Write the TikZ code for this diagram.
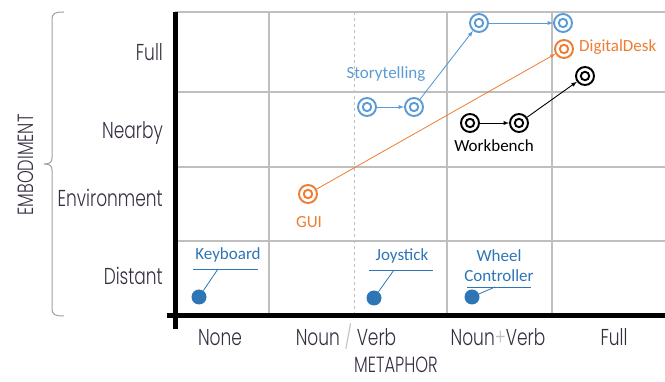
\documentclass[tikz,border=0pt]{standalone}
\usepackage{fontspec}
\newfontfamily\axisfont[FakeStretch=0.74]{Poppins Light}
\newfontfamily\markfont{Carlito}
\definecolor{skyblue}{RGB}{91,155,213}
\definecolor{deepblue}{RGB}{46,117,182}
\definecolor{tangerine}{RGB}{237,125,49}
\definecolor{gridgray}{RGB}{191,191,191}
\definecolor{inkgray}{RGB}{55,45,65}
\begin{document}
\begin{tikzpicture}[x=1pt, y=-1pt,
    ring/.style={circle, draw=#1, line width=1.9pt, minimum size=18pt, inner sep=0pt,
      path picture={\draw[#1, line width=1.9pt] (path picture bounding box.center) circle (4.2pt);}},
    pin/.style={circle, fill=deepblue, minimum size=15pt, inner sep=0pt},
    gridline/.style={gridgray, line width=1.2pt},
    ticklabel/.style={inkgray, font=\axisfont\fontsize{23}{26}\selectfont, inner sep=0pt},
    axistitle/.style={inkgray, font=\axisfont\fontsize{22}{26}\selectfont, inner sep=0pt},
    tag/.style={font=\markfont\fontsize{17}{20}\selectfont, inner sep=0pt, align=center},
    leader/.style={deepblue, line width=0.8pt}]
    \tikzset{>=latex}
    \useasboundingbox (0,0) rectangle (665,382);

    % grid
    \foreach \gy in {12,92,167,241} \draw[gridline] (175,\gy) -- (665,\gy);
    \foreach \gx in {269,447,552} \draw[gridline] (\gx,12) -- (\gx,316);
    \draw[gridline, dashed, line width=1pt] (354,12) -- (354,316);

    % axes
    \draw[line width=5pt] (175,12) -- (175,329);
    \draw[line width=5pt] (167,316) -- (665,316);

    % brace
    \draw[gray!75, line width=1pt] (64,12) .. controls (55,12) and (52,13) .. (52,20)
      -- (52,158) .. controls (52,162) and (50,164) .. (44,164)
      .. controls (50,164) and (52,166) .. (52,170)
      -- (52,308) .. controls (52,315) and (55,316) .. (64,316);

    % axis labels
    \node[ticklabel, anchor=base east] (yfull) at (163,61) {Full};
    \node[ticklabel, anchor=base east] (ynear) at (163,139) {Nearby};
    \node[ticklabel, anchor=base east] (yenv) at (163,207) {Environment};
    \node[ticklabel, anchor=base east] (ydist) at (163,285) {Distant};
    \node[ticklabel, anchor=base] (xnone) at (220,346) {None};
    \node[ticklabel, anchor=base] (xnv) at (346,346) {Noun {\color{gridgray}/} Verb};
    \node[ticklabel, anchor=base] (xnpv) at (498,346) {Noun{\color{gridgray}+}Verb};
    \node[ticklabel, anchor=base] (xfull) at (614,346) {Full};
    \node[axistitle, anchor=base] (xtitle) at (396,373) {METAPHOR};
    \node[axistitle, anchor=base, rotate=90] (ytitle) at (33,165) {EMBODIMENT};

    % storytelling
    \node[ring=skyblue] (s1) at (367,107) {};
    \node[ring=skyblue] (s2) at (414,107) {};
    \node[ring=skyblue] (s3) at (479,23) {};
    \node[ring=skyblue] (s4) at (563,23) {};
    \node[tag, text=skyblue] (slab) at (386,74) {Storytelling};
    \draw[->, skyblue, line width=0.9pt] (s1) -- (s2);
    \draw[->, skyblue, line width=0.9pt] (s2) -- (s3);
    \draw[->, skyblue, line width=0.9pt] (s3) -- (s4);

    % gui and digitaldesk
    \node[ring=tangerine] (gui) at (308,194) {};
    \node[ring=tangerine] (dd) at (564,49) {};
    \node[tag, text=tangerine] (guilab) at (309,222) {GUI};
    \node[tag, text=tangerine, anchor=west] (ddlab) at (579,47) {DigitalDesk};
    \draw[->, tangerine, line width=0.8pt] (gui) -- (dd);

    % workbench
    \node[ring=black] (w1) at (470,123) {};
    \node[ring=black] (w2) at (519,123) {};
    \node[ring=black] (w3) at (585,76) {};
    \node[tag] (wlab) at (494,146) {Workbench};
    \draw[->, line width=0.9pt] (w1) -- (w2);
    \draw[->, line width=0.9pt] (w2) -- (w3);

    % devices
    \node[pin] (kb) at (199,297) {};
    \node[tag, text=deepblue] (kblab) at (228,255) {Keyboard};
    \coordinate (kbl) at (193,269);
    \coordinate (kbr) at (258,269);
    \coordinate (kbfoot) at (218,269);
    \draw[leader] (kbl) -- (kbr);
    \draw[leader] (kb) -- (kbfoot);

    \node[pin] (joy) at (374,298) {};
    \node[tag, text=deepblue] (joylab) at (402,256) {Joystick};
    \coordinate (joyl) at (369,270);
    \coordinate (joyr) at (433,270);
    \coordinate (joyfoot) at (394,270);
    \draw[leader] (joyl) -- (joyr);
    \draw[leader] (joy) -- (joyfoot);

    \node[pin] (wheel) at (472,297) {};
    \node[tag, text=deepblue] (wheellab) at (499,266) {Wheel\\Controller};
    \coordinate (wheell) at (467,287);
    \coordinate (wheelr) at (531,287);
    \coordinate (wheelfoot) at (495,287);
    \draw[leader] (wheell) -- (wheelr);
    \draw[leader] (wheel) -- (wheelfoot);
\end{tikzpicture}
\end{document}
